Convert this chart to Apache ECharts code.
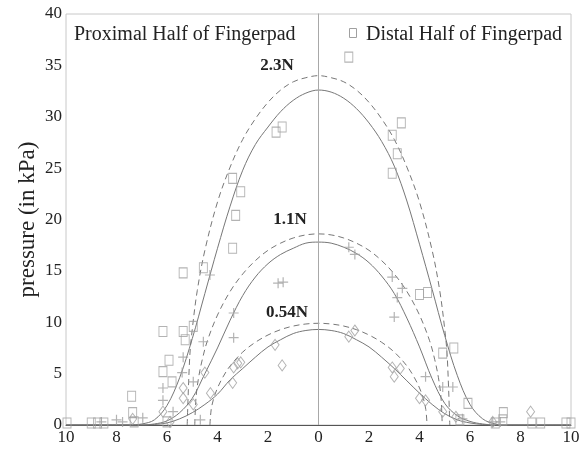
<!DOCTYPE html>
<html>
<head>
<meta charset="utf-8">
<script src="https://cdn.jsdelivr.net/npm/echarts@6/dist/echarts.min.js"></script>
<style>
html,body{margin:0;padding:0;background:#fff;}
#chart{width:585px;height:449px;}
</style>
</head>
<body>
<div id="chart"></div>
<script>
// ---- Data ----
const xTicks = [-10,-8,-6,-4,-2,0,2,4,6,8,10];
const yTicks = [0,5,10,15,20,25,30,35,40];

// Solid fitted curves
const solid23X = [-10,-7.5,-7,-6.5,-6,-5.5,-5,-4.5,-4,-3.5,-3,-2.5,-2,-1.5,-1,-0.5,0,0.5,1,1.5,2,2.5,3,3.5,4,4.5,5,5.5,6,6.5,7,7.5,10];
const solid23Y = [0,0,0.1,0.5,1.9,4.6,8.4,12.8,17.2,21.3,24.8,27.3,29.0,30.5,31.6,32.3,32.6,32.4,31.8,30.8,29.4,27.6,25.2,21.8,17.6,13.2,8.7,4.8,2.0,0.6,0.1,0,0];

const solid11X = [-10,-7,-6.5,-6,-5.5,-5,-4.5,-4,-3.5,-3,-2.5,-2,-1.5,-1,-0.5,0,0.5,1,1.5,2,2.5,3,3.5,4,4.5,5,5.5,6,6.5,7,10];
const solid11Y = [0,0,0.1,0.4,1.2,2.6,5.0,7.5,10.2,12.6,14.4,15.7,16.6,17.2,17.7,17.8,17.7,17.3,16.7,15.8,14.5,12.8,10.4,7.6,4.5,2.1,0.9,0.35,0.1,0,0];

const solid054X = [-10,-7,-6.5,-6,-5.5,-5,-4.5,-4,-3.5,-3,-2.5,-2,-1.5,-1,-0.5,0,0.5,1,1.5,2,2.5,3,3.5,4,4.5,5,5.5,6,6.5,7,10];
const solid054Y = [0,0,0.05,0.2,0.6,1.2,2.0,3.0,4.4,5.5,6.6,7.6,8.3,8.9,9.2,9.3,9.2,8.9,8.3,7.6,6.6,5.5,4.3,3.1,2.0,1.1,0.5,0.2,0.05,0,0];

// Dashed curves
const dashed23X = [-5.2,-5.1,-5.0,-4.8,-4.5,-4,-3.5,-3,-2.5,-2,-1.5,-1,-0.5,0,0.5,1,1.5,2,2.5,3,3.5,4,4.5,4.8,5.0,5.1,5.2];
const dashed23Y = [0,6.6,9.3,13.1,17.0,21.7,25.1,27.8,29.8,31.4,32.6,33.4,33.8,34.0,33.8,33.4,32.6,31.4,29.8,27.8,25.1,21.7,17.0,13.1,9.3,6.6,0];

const dashed11X = [-4.9,-4.85,-4.75,-4.6,-4.4,-4,-3.5,-3,-2.5,-2,-1.5,-1,-0.5,0,0.5,1,1.5,2,2.5,3,3.5,4,4.4,4.6,4.75,4.85,4.9];
const dashed11Y = [0,2.7,4.6,6.4,8.2,10.7,13.0,14.7,16.0,17.0,17.7,18.2,18.5,18.6,18.5,18.2,17.7,17.0,16.0,14.7,13.0,10.7,8.2,6.4,4.6,2.7,0];

const dashed054X = [-4.3,-4.25,-4.15,-4.0,-3.8,-3.5,-3,-2.5,-2,-1.5,-1,-0.5,0,0.5,1,1.5,2,2.5,3,3.5,3.8,4.0,4.15,4.25,4.3];
const dashed054Y = [0,1.5,2.6,3.6,4.6,5.75,7.1,8.05,8.76,9.28,9.63,9.83,9.9,9.83,9.63,9.28,8.76,8.05,7.1,5.75,4.6,3.6,2.6,1.5,0];

// Measured points: squares (2.3N)
const sqX = [-1.68,-1.44,-3.4,-3.08,-3.28,-3.4,-4.56,-5.36,-6.16,-5.36,-5.28,-4.96,-5.92,-6.16,-5.8,-7.4,-7.36,-9.96,-9.0,-8.75,-8.5,-7.3,-6.0,
             1.2,3.28,2.92,3.12,2.92,4.0,4.32,4.92,5.36,5.92,5.6,7.32,7.3,7.0,8.45,8.8,9.8,10.0];
const sqY = [28.5,29.0,24.0,22.7,20.4,17.2,15.3,14.8,9.1,9.1,8.3,9.6,6.3,5.2,4.2,2.8,1.2,0.2,0.2,0.2,0.2,0.3,0.3,
             35.8,29.4,28.2,26.4,24.5,12.7,12.9,7.0,7.5,2.1,0.5,1.2,0.5,0.2,0.2,0.2,0.2,0.2];

// Measured points: plus (1.1N)
const plX = [-4.3,-3.36,-3.36,-4.56,-5.36,-5.4,-4.96,-6.16,-6.16,-5.76,-4.68,-6.96,-7.76,-8.0,-8.6,-1.6,-1.4,
             1.2,1.44,2.92,3.32,3.12,3.0,4.24,4.92,5.32,5.7,6.9,7.2];
const plY = [14.6,10.9,8.5,8.1,6.6,5.1,4.2,3.6,2.4,1.3,0.5,0.7,0.3,0.5,0.3,13.8,13.9,
             17.3,16.6,14.4,13.3,12.4,10.5,4.7,3.7,3.7,0.6,0.3,0.3];

// Measured points: diamonds (0.54N)
const dmX = [-1.72,-1.44,-3.36,-3.2,-3.4,-4.5,-4.28,-5.36,-5.36,-4.96,-6.16,-5.88,-7.36,-3.08,
             1.2,1.44,2.92,3.0,3.24,4.0,4.24,4.92,5.44,8.4,6.9];
const dmY = [7.8,5.8,5.6,6.0,4.1,5.1,3.1,3.6,2.6,2.0,1.3,0.3,0.6,6.1,
             8.6,9.2,5.6,4.7,5.5,2.6,2.4,1.3,0.8,1.3,0.3];

// Labels
const forceLabels = ['2.3N','1.1N','0.54N'];
const leftTitle = 'Proximal Half of Fingerpad';
const rightTitle = 'Distal Half of Fingerpad';
const yName = 'pressure (in kPa)';

// ---- Build ----
const zip = (xs, ys) => xs.map((x, i) => [x, ys[i]]);
const SERIF = '"Liberation Serif","Times New Roman",serif';
const lineColor = '#777777';
const markColor = '#a0a0a0';

function curve(name, xs, ys, dashed) {
  return {
    name, type: 'line', data: zip(xs, ys), showSymbol: false, smooth: 0.35,
    lineStyle: { color: lineColor, width: 1, type: dashed ? [6, 4] : 'solid' },
    silent: true, z: 3
  };
}
const markStyle = { color: 'rgba(0,0,0,0)', borderColor: markColor, borderWidth: 1 };

const chart = echarts.init(document.getElementById('chart'), null, { renderer: 'canvas' });
chart.setOption({
  animation: false,
  backgroundColor: '#fff',
  grid: { left: 66, right: 14, top: 14, bottom: 24, show: true, borderColor: '#c8c8c8', borderWidth: 1 },
  xAxis: {
    type: 'value', min: -10, max: 10, interval: 2,
    axisLine: { show: true, onZero: false, lineStyle: { color: '#555', width: 1 } },
    axisTick: { show: false },
    splitLine: { show: false },
    axisLabel: { margin: 4, color: '#222', fontFamily: SERIF, fontSize: 17, formatter: v => String(Math.abs(v)) }
  },
  yAxis: {
    type: 'value', min: 0, max: 40, interval: 5,
    name: yName, nameLocation: 'middle', nameGap: 27, nameMoveOverlap: false,
    nameTextStyle: { color: '#222', fontFamily: SERIF, fontSize: 23 },
    axisLine: { show: true, lineStyle: { color: '#9a9a9a', width: 1 } },
    axisTick: { show: false },
    splitLine: { show: false },
    axisLabel: { margin: 4, color: '#222', fontFamily: SERIF, fontSize: 17 }
  },
  series: [
    {
      name: 'center', type: 'line', data: [], silent: true,
      markLine: { silent: true, symbol: ['none', 'none'], label: { show: false },
        lineStyle: { color: '#a8a8a8', width: 1, type: 'solid' }, data: [{ xAxis: 0 }] }
    },
    curve('2.3N fit', solid23X, solid23Y, false),
    curve('1.1N fit', solid11X, solid11Y, false),
    curve('0.54N fit', solid054X, solid054Y, false),
    curve('2.3N model', dashed23X, dashed23Y, true),
    curve('1.1N model', dashed11X, dashed11Y, true),
    curve('0.54N model', dashed054X, dashed054Y, true),
    { name: '2.3N', type: 'scatter', data: zip(sqX, sqY), symbol: 'rect', symbolSize: [8, 10], itemStyle: markStyle, z: 4 },
    { name: '1.1N', type: 'scatter', data: zip(plX, plY),
      symbol: 'path://M4.4,0h1.2v4.4h4.4v1.2h-4.4v4.4h-1.2v-4.4h-4.4v-1.2h4.4z', symbolSize: 10,
      itemStyle: { color: markColor }, z: 4 },
    { name: '0.54N', type: 'scatter', data: zip(dmX, dmY), symbol: 'diamond', symbolSize: [8, 11], itemStyle: markStyle, z: 4 }
  ],
  graphic: [
    { type: 'text', x: 74, y: 35, style: { text: leftTitle, font: '20px ' + SERIF, fill: '#222', align: 'left', verticalAlign: 'middle' } },
    { type: 'rect', shape: { x: 349.5, y: 28.5, width: 7, height: 9 }, style: { fill: 'none', stroke: markColor, lineWidth: 1 } },
    { type: 'text', x: 366, y: 35, style: { text: rightTitle, font: '20px ' + SERIF, fill: '#222', align: 'left', verticalAlign: 'middle' } },
    { type: 'text', x: 277, y: 66, style: { text: forceLabels[0], font: 'bold 17px ' + SERIF, fill: '#222', align: 'center', verticalAlign: 'middle' } },
    { type: 'text', x: 290, y: 220, style: { text: forceLabels[1], font: 'bold 17px ' + SERIF, fill: '#222', align: 'center', verticalAlign: 'middle' } },
    { type: 'text', x: 287, y: 313, style: { text: forceLabels[2], font: 'bold 17px ' + SERIF, fill: '#222', align: 'center', verticalAlign: 'middle' } }
  ]
});
</script>
</body>
</html>
